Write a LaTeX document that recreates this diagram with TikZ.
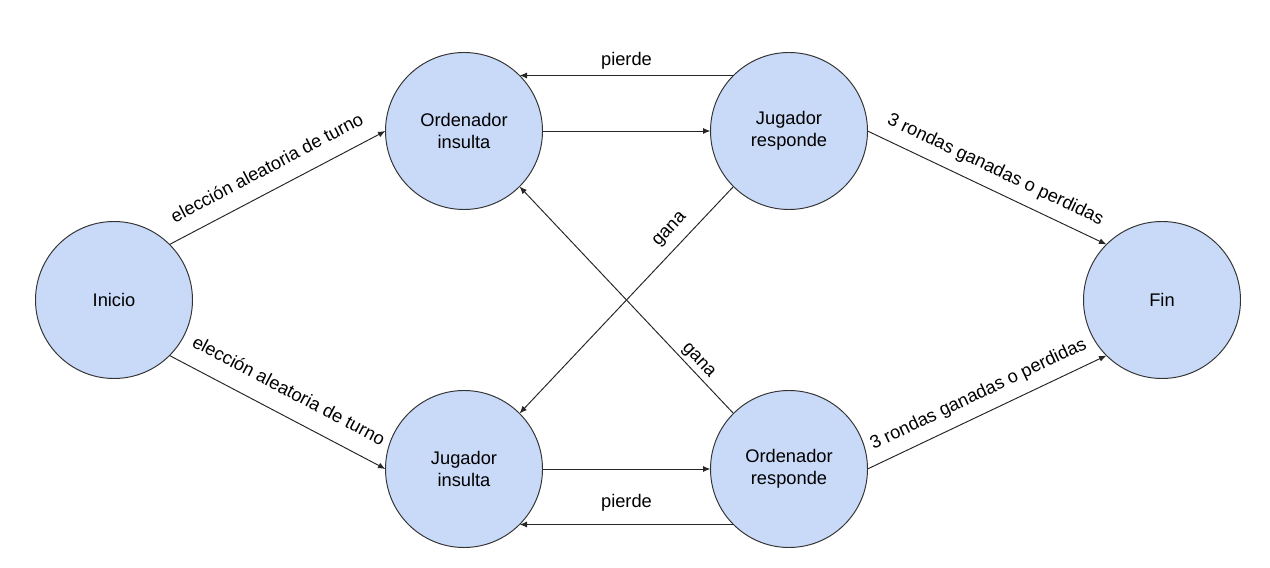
\documentclass[tikz,border=0pt]{standalone}
\usepackage{fontspec}
\setmainfont{Liberation Sans}
\usepackage{xcolor}
\usetikzlibrary{arrows.meta, positioning}
\definecolor{azulclaro}{HTML}{C9DAF8}
\definecolor{borde}{HTML}{333333}

\begin{document}
\begin{tikzpicture}[
  on grid,
  estado/.style={circle, draw=borde, line width=0.55pt, fill=azulclaro,
                 minimum size=3.14cm, inner sep=0pt, outer sep=0pt,
                 align=center, font=\fontsize{10.4}{12.5}\selectfont},
  arrow/.style={-{Latex[length=1.5mm, width=1.2mm]}, line width=0.55pt, draw=black!85},
  etiqueta/.style={font=\fontsize{10.4}{12.5}\selectfont, inner sep=0pt}
]
  \useasboundingbox (0,0) rectangle (25.4,11.34);

  % 节点
  \node[estado] (inicio) at (2.28,5.34) {Inicio};
  \node[estado, above right=3.38cm and 7cm of inicio] (ordinsulta) {Ordenador\\insulta};
  \node[estado, below right=3.38cm and 7cm of inicio] (juginsulta) {Jugador\\insulta};
  \node[estado, right=6.5cm of ordinsulta] (jugresponde) {Jugador\\responde};
  \node[estado, right=6.5cm of juginsulta] (ordresponde) {Ordenador\\responde};
  \node[estado, below right=3.38cm and 7.46cm of jugresponde] (fin) {Fin};

  % 箭头
  \draw[arrow] (inicio.45) -- (ordinsulta.west)
    node[etiqueta, sloped, midway, above=9pt] {elección aleatoria de turno};
  \draw[arrow] (inicio.-45) -- (juginsulta.west)
    node[etiqueta, sloped, midway, above=10pt] {elección aleatoria de turno};

  \draw[arrow] (ordinsulta) -- (jugresponde);
  \draw[arrow] (jugresponde.135) -- (ordinsulta.45)
    node[etiqueta, midway, above=3pt] {pierde};
  \draw[arrow] (juginsulta) -- (ordresponde);
  \draw[arrow] (ordresponde.225) -- (juginsulta.-45)
    node[etiqueta, midway, above=7pt] {pierde};

  \draw[arrow] (jugresponde.225) -- (juginsulta.45)
    node[etiqueta, sloped, pos=0.24, above=5pt] {gana};
  \draw[arrow] (ordresponde.135) -- (ordinsulta.-45)
    node[etiqueta, sloped, pos=0.2, above=1.5pt] {gana};

  \draw[arrow] (jugresponde.east) -- (fin.135)
    node[etiqueta, sloped, midway, above=6pt] {3 rondas ganadas o perdidas};
  \draw[arrow] (ordresponde.east) -- (fin.225)
    node[etiqueta, sloped, midway, above=6pt] {3 rondas ganadas o perdidas};

\end{tikzpicture}
\end{document}
